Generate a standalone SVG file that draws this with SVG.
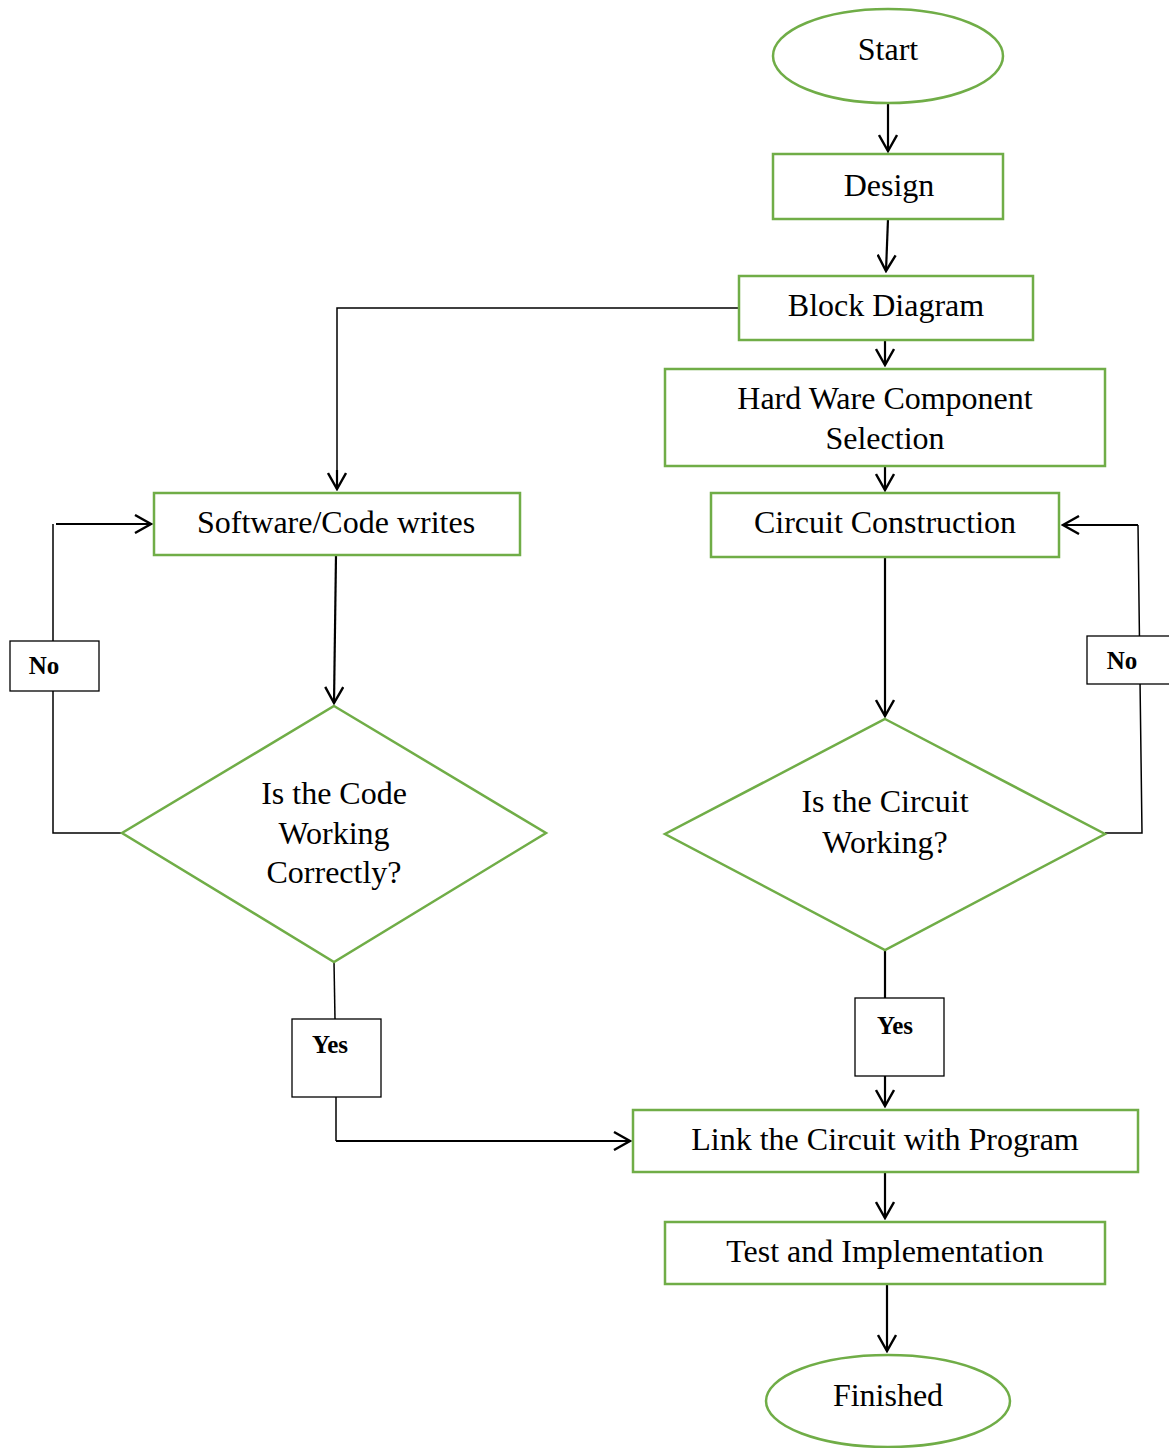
<svg xmlns="http://www.w3.org/2000/svg" width="1169" height="1448" viewBox="0 0 1169 1448">
<style>
.n{fill:#fff;stroke:#70AD47;stroke-width:2.5}
.t{font-family:"Liberation Serif","Times New Roman",serif;font-size:32px;fill:#000;text-anchor:middle}
.lb{fill:#fff;stroke:#000;stroke-width:1.3}
.lt{font-family:"Liberation Serif","Times New Roman",serif;font-size:25px;font-weight:bold;fill:#000;text-anchor:middle}
.c{fill:none;stroke:#000;stroke-width:1.5}
.a{fill:none;stroke:#000;stroke-width:2.2}
</style>
<defs>
<marker id="ar" viewBox="0 0 20 20" refX="18" refY="10" markerWidth="20" markerHeight="20" markerUnits="userSpaceOnUse" orient="auto">
<path d="M2,1 L18,10 L2,19" fill="none" stroke="#000" stroke-width="2.4"/>
</marker>
</defs>
<g id="connectors">
<line class="a" x1="888" y1="103" x2="888" y2="151" marker-end="url(#ar)"/>
<line class="a" x1="888" y1="219" x2="886" y2="271" marker-end="url(#ar)"/>
<polyline class="c" points="739,308 337,308 337,480"/>
<line class="a" x1="337" y1="470" x2="337" y2="489" marker-end="url(#ar)"/>
<line class="a" x1="885" y1="340" x2="885" y2="365" marker-end="url(#ar)"/>
<line class="a" x1="885" y1="466" x2="885" y2="490" marker-end="url(#ar)"/>
<line class="a" x1="336" y1="555" x2="334" y2="703" marker-end="url(#ar)"/>
<polyline class="c" points="122,833 53,833 53,524"/>
<line class="a" x1="56" y1="524" x2="151" y2="524" marker-end="url(#ar)"/>
<line class="a" x1="885" y1="557" x2="885" y2="716" marker-end="url(#ar)"/>
<polyline class="c" points="1105,833 1142,833 1138,525"/>
<line class="a" x1="1138" y1="525" x2="1063" y2="525" marker-end="url(#ar)"/>
<polyline class="c" points="334,962 335,1019"/>
<polyline class="c" points="336,1097 336,1141"/>
<line class="a" x1="336" y1="1141" x2="630" y2="1141" marker-end="url(#ar)"/>
<line class="a" x1="885" y1="950" x2="885" y2="998"/>
<line class="a" x1="885" y1="1076" x2="885" y2="1106" marker-end="url(#ar)"/>
<line class="a" x1="885" y1="1172" x2="885" y2="1218" marker-end="url(#ar)"/>
<line class="a" x1="887" y1="1284" x2="887" y2="1351" marker-end="url(#ar)"/>
</g>
<g id="start"><ellipse class="n" cx="888" cy="56" rx="115" ry="47"/><text class="t" x="888" y="60">Start</text></g>
<g id="design"><rect class="n" x="773" y="154" width="230" height="65"/><text class="t" x="889" y="196">Design</text></g>
<g id="block"><rect class="n" x="739" y="276" width="294" height="64"/><text class="t" x="886" y="316">Block Diagram</text></g>
<g id="hardware"><rect class="n" x="665" y="369" width="440" height="97"/><text class="t" x="885" y="409">Hard Ware Component</text><text class="t" x="885" y="449">Selection</text></g>
<g id="software"><rect class="n" x="154" y="493" width="366" height="62"/><text class="t" x="336" y="533">Software/Code writes</text></g>
<g id="circuit"><rect class="n" x="711" y="493" width="348" height="64"/><text class="t" x="885" y="533">Circuit Construction</text></g>
<g id="codecheck"><polygon class="n" points="334,706 546,833 334,962 122,833"/><text class="t" x="334" y="804">Is the Code</text><text class="t" x="334" y="844">Working</text><text class="t" x="334" y="883">Correctly?</text></g>
<g id="circuitcheck"><polygon class="n" points="885,719 1105,834 885,950 665,834"/><text class="t" x="885" y="812">Is the Circuit</text><text class="t" x="885" y="853">Working?</text></g>
<g id="no-left"><rect class="lb" x="10" y="641" width="89" height="50"/><text class="lt" x="44" y="674">No</text></g>
<g id="no-right"><rect class="lb" x="1087" y="636" width="90" height="48"/><text class="lt" x="1122" y="669">No</text></g>
<g id="yes-left"><rect class="lb" x="292" y="1019" width="89" height="78"/><text class="lt" x="330" y="1053">Yes</text></g>
<g id="yes-right"><rect class="lb" x="855" y="998" width="89" height="78"/><text class="lt" x="895" y="1034">Yes</text></g>
<g id="link"><rect class="n" x="633" y="1110" width="505" height="62"/><text class="t" x="885" y="1150">Link the Circuit with Program</text></g>
<g id="test"><rect class="n" x="665" y="1222" width="440" height="62"/><text class="t" x="885" y="1262">Test and Implementation</text></g>
<g id="finished"><ellipse class="n" cx="888" cy="1401" rx="122" ry="46"/><text class="t" x="888" y="1406">Finished</text></g>
</svg>
